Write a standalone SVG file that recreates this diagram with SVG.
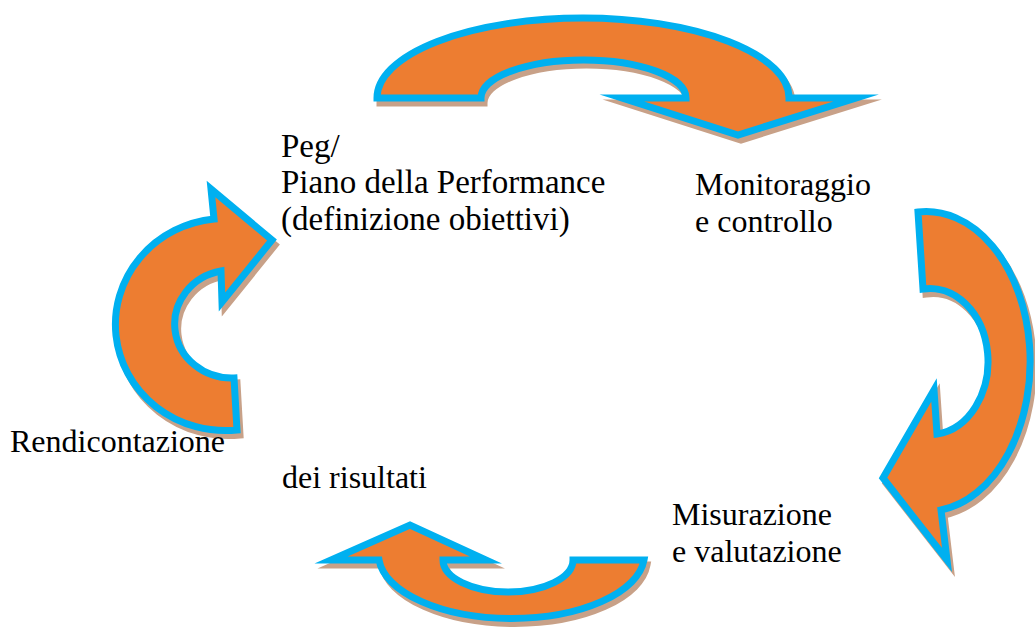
<svg xmlns="http://www.w3.org/2000/svg" width="1035" height="634" viewBox="0 0 1035 634">
  <style>
    .arrow { fill: #ED7D31; stroke: #00B0F0; stroke-width: 7; stroke-linejoin: miter; stroke-miterlimit: 10; }
    .shadow { fill: #C8A188; stroke: #C8A188; stroke-width: 7; stroke-linejoin: miter; stroke-miterlimit: 10; }
  </style>
  <defs>
    <path id="arrowTop" d="M 377 98 A 206 80 0 0 1 789 98 L 856 98 L 738 135 L 622 98 L 686 98 A 102.5 38 0 0 0 481 98 Z"/>
    <path id="arrowRight" d="M 918 212 A 104 150 0 0 1 941 510 L 947 560 L 883 478 L 934 390 L 937 434 A 58 73 0 0 0 923 289 Z"/>
    <path id="arrowBottom" d="M 644 560 A 133 64 0 0 1 379 560 L 331 560 L 410 525 L 486 560 L 443 560 A 65 32 0 0 0 573 560 Z"/>
    <path id="arrowLeft" d="M 237 430 A 110 106 0 0 1 214 219 L 211 189 L 272 240 L 222 302 L 221 271 A 57 54 0 0 0 234 378 Z"/>
  </defs>

  <g id="connectors">
    <g id="arrow-top">
      <use href="#arrowTop" class="shadow" transform="translate(3,5)"/>
      <use href="#arrowTop" class="arrow"/>
    </g>
    <g id="arrow-right">
      <use href="#arrowRight" class="shadow" transform="translate(3,5)"/>
      <use href="#arrowRight" class="arrow"/>
    </g>
    <g id="arrow-bottom">
      <use href="#arrowBottom" class="shadow" transform="translate(3,5)"/>
      <use href="#arrowBottom" class="arrow"/>
    </g>
    <g id="arrow-left">
      <use href="#arrowLeft" class="shadow" transform="translate(3,5)"/>
      <use href="#arrowLeft" class="arrow"/>
    </g>
  </g>

  <g id="labels" font-family="Liberation Serif, Times New Roman, serif" font-size="32" fill="#000">
    <g id="node-peg" font-size="33">
      <text x="281" y="157">Peg/</text>
      <text x="281" y="193">Piano della Performance</text>
      <text x="281" y="230">(definizione obiettivi)</text>
    </g>
    <g id="node-monitoraggio">
      <text x="695" y="195">Monitoraggio</text>
      <text x="695" y="232">e controllo</text>
    </g>
    <g id="node-misurazione">
      <text x="672" y="525">Misurazione</text>
      <text x="672" y="562">e valutazione</text>
    </g>
    <g id="node-rendicontazione">
      <text x="10" y="452">Rendicontazione</text>
      <text x="282" y="488">dei risultati</text>
    </g>
  </g>
</svg>
